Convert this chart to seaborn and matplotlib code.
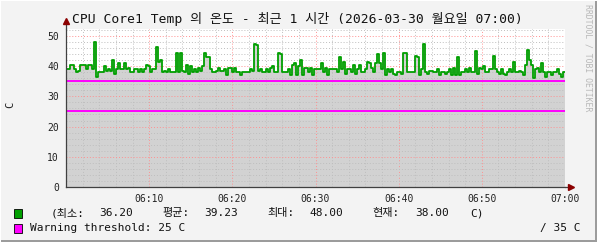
import numpy as np
import pandas as pd
import matplotlib
matplotlib.use('Agg')
import matplotlib.pyplot as plt
import seaborn as sns
from matplotlib.patches import Rectangle
from matplotlib.lines import Line2D

# ---------------- data ----------------
temps_a = [39, 39, 40.5, 40.5, 39, 38, 38.5, 40.5, 40.5, 40.5, 39, 40.5, 40.5, 39, 48, 36.5,
           38, 38, 38, 40, 38.5, 39, 38.5, 42, 37.5, 39, 41, 39, 39, 41, 39, 39.5, 38, 38,
           39, 39, 38, 39, 38, 39, 40.5, 40]
temps_b = [38, 39, 39, 46.5, 41.5, 42, 38, 38.5, 38, 39, 38, 38, 38, 44.5, 38, 44.5, 38.5,
           38, 40.5, 37.5, 40, 38, 39, 38, 39.5, 38.5, 40, 44.5, 43, 43, 39, 38, 38, 38.5,
           39.5, 38.5, 38.5, 39, 37, 39.5, 39.5, 38]
temps_c = [39.5, 38, 38, 37, 38, 38, 38, 38, 39, 38.5, 47.5, 47, 38.5, 39, 38, 38, 39, 38,
           39.5, 40, 38, 38, 44.5, 44, 38, 38, 38, 39, 37, 40.5, 41, 37, 40, 42, 37, 39.5,
           39.5, 38, 39.5, 37, 39, 39]
temps_d = [39, 41, 38, 39.5, 37, 39, 39, 39, 39, 38, 43, 39, 41.5, 37.5, 39, 39, 38, 40.5,
           37.5, 39, 40.5, 38, 38, 39, 41.5, 41, 39.5, 38, 41, 44, 41, 39, 44.5, 37, 39, 38,
           39, 37.5, 37, 38, 38, 37.5]
temps_e = [44.5, 44.5, 38, 38, 38, 38, 43.5, 43, 37, 39, 47.5, 38, 37.5, 38.5, 38.5, 38, 38,
           39, 37, 38, 38, 37.5, 38, 39, 37, 39.5, 37, 43, 37, 38, 38, 39, 38, 39.5, 38, 38,
           45, 37.5, 39.5, 39, 40, 38]
temps_f = [38, 39, 39, 43.5, 39, 38, 37.5, 39, 37.5, 37, 38, 39, 38, 41.5, 38, 38, 38.5, 38,
           37, 40.5, 45.5, 42, 40.5, 36.2, 39, 39.5, 38, 41, 38, 36.5, 38, 38, 37, 38, 38, 39,
           37.5, 36.5, 38]
temps = temps_a + temps_b + temps_c + temps_d + temps_e + temps_f

x_tick_minutes = [10, 20, 30, 40, 50, 60]
x_tick_labels = ['06:10', '06:20', '06:30', '06:40', '06:50', '07:00']
y_ticks = [0, 10, 20, 30, 40, 50]
warning_low = 25
warning_high = 35
stat_names = ['(최소:', '평균:', '최대:', '현재:']
stat_values = ['36.20', '39.23', '48.00', '38.00']
unit = 'C'
title = 'CPU Core1 Temp 의 온도 - 최근 1 시간 (2026-03-30 월요일 07:00)'
warn_label = 'Warning threshold: 25 C'
warn_right = '/ 35 C'
credit = 'RRDTOOL / TOBI OETIKER'

# ---------------- layout helpers ----------------
W, H = 597, 242
def fx(px):
    return px / W
def fy(py):
    return 1 - py / H

sns.set_style('white')
mono = ['DejaVu Sans Mono', 'Noto Sans CJK KR']
plt.rcParams['font.family'] = mono

fig = plt.figure(figsize=(W / 100, H / 100), dpi=100, facecolor='#F3F3F3')
left, right, top, bottom = 66, 565, 29, 187
ax = fig.add_axes([fx(left), fy(bottom), (right - left) / W, (bottom - top) / H])
ax.set_facecolor('white')

n = len(temps)
minutes = np.arange(n + 1) * 60.0 / n
df = pd.DataFrame({'minute': minutes, 'temp': temps + [temps[-1]]})

ax.fill_between(df['minute'], df['temp'], step='post', color='#D2D2D2', lw=0, zorder=1)
sns.lineplot(data=df, x='minute', y='temp', drawstyle='steps-post', color='#009F00',
             lw=1.3, ax=ax, zorder=3)
ax.axhline(warning_high, color='#FF00FF', lw=1.4, zorder=2.5)
ax.axhline(warning_low, color='#FF00FF', lw=1.4, zorder=2.5)

ax.set_xlim(0, 60)
ax.set_ylim(0, 52.3)
ax.set_xticks(x_tick_minutes, labels=x_tick_labels)
ax.set_xticks(np.arange(0, 61, 2), minor=True)
ax.set_yticks(y_ticks, labels=[str(v) for v in y_ticks])
ax.set_yticks(np.arange(0, 53, 2), minor=True)
ax.set_axisbelow('line')
ax.grid(which='minor', color='#BEBEBE', linestyle=(0, (1, 2)), lw=0.7)
ax.grid(which='major', color='#FF9090', linestyle=(0, (1, 2)), lw=0.7)
ax.set_xlabel('')
ax.set_ylabel('')

for s in ['top', 'right']:
    ax.spines[s].set_visible(False)
for s in ['left', 'bottom']:
    ax.spines[s].set_color('#404040')
    ax.spines[s].set_linewidth(0.9)
    ax.spines[s].set_zorder(4)

ax.tick_params(axis='both', which='major', length=3, width=0.8, color='#404040',
               labelsize=7, labelcolor='#222222', pad=2)
ax.tick_params(axis='both', which='minor', length=2, width=0.6, color='#404040')
ax.tick_params(axis='y', which='minor', length=0)

# axis arrows (y axis extends above the plot area up to the title line)
y_ext = (bottom - 21) / (bottom - top)
ax.add_line(Line2D([1, 1.012], [0, 0], transform=ax.transAxes, color='#404040', lw=0.9,
                   clip_on=False, zorder=4))
ax.add_line(Line2D([0, 0], [1, y_ext], transform=ax.transAxes, color='#404040', lw=0.9,
                   clip_on=False, zorder=4))
ax.plot([1.012], [0], transform=ax.transAxes, marker='>', ms=4, color='#8B0000',
        clip_on=False, zorder=5)
ax.plot([0], [y_ext], transform=ax.transAxes, marker='^', ms=4, color='#8B0000',
        clip_on=False, zorder=5)

# title and labels
fig.text(fx(297), fy(19), title, ha='center', va='center', fontsize=9.4, color='#111111')
fig.text(fx(10), fy(105), unit, ha='center', va='center', rotation=90, fontsize=7.5,
         color='#222222')
fig.text(fx(588), fy(4), credit, ha='center', va='top', rotation=270, fontsize=5.9,
         color='#B8B8B8')

# legend
fig.patches.append(Rectangle((fx(14), fy(218)), 8 / W, 9 / H, transform=fig.transFigure,
                             facecolor='#009F00', edgecolor='black', lw=0.6))
fig.patches.append(Rectangle((fx(14), fy(233)), 8 / W, 9 / H, transform=fig.transFigure,
                             facecolor='#FF00FF', edgecolor='black', lw=0.6))
name_x = [51, 162, 267, 372]
val_x = [99, 204, 309, 415]
for nm, vl, nx, vx in zip(stat_names, stat_values, name_x, val_x):
    fig.text(fx(nx), fy(213), nm, ha='left', va='center', fontsize=8, color='#111111')
    fig.text(fx(vx), fy(213), vl, ha='left', va='center', fontsize=8, color='#111111')
fig.text(fx(470), fy(213), unit + ')', ha='left', va='center', fontsize=8, color='#111111')
fig.text(fx(30), fy(228), warn_label, ha='left', va='center', fontsize=8, color='#111111')
fig.text(fx(580), fy(228), warn_right, ha='right', va='center', fontsize=8, color='#111111')

# 3D frame edges
fig.patches.append(Rectangle((0, 0), 1, 2 / H, transform=fig.transFigure,
                             facecolor='#9C9C9C', edgecolor='none'))
fig.patches.append(Rectangle((1 - 2 / W, 0), 2 / W, 1, transform=fig.transFigure,
                             facecolor='#9C9C9C', edgecolor='none'))
fig.patches.append(Rectangle((0, 1 - 1 / H), 1, 1 / H, transform=fig.transFigure,
                             facecolor='#FFFFFF', edgecolor='none'))
fig.patches.append(Rectangle((0, 0), 1 / W, 1, transform=fig.transFigure,
                             facecolor='#FFFFFF', edgecolor='none'))

fig.savefig('out.png', dpi=100, facecolor=fig.get_facecolor())
